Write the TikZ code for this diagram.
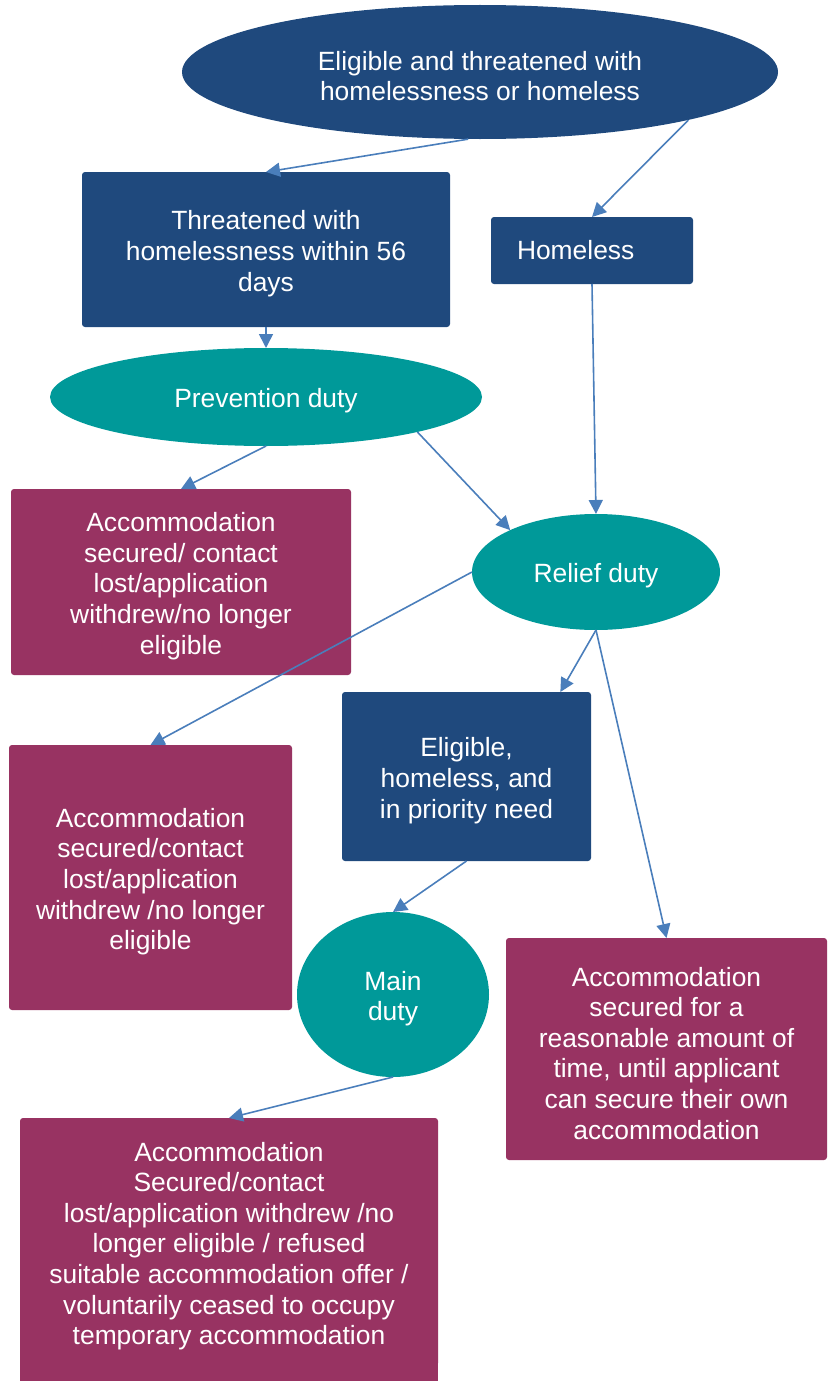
\documentclass[tikz,border=0pt]{standalone}
\usepackage{fontspec}
\setmainfont{Liberation Sans}
\usetikzlibrary{shapes.geometric, arrows.meta, positioning}

\definecolor{navy}{RGB}{31,73,125}
\definecolor{tealduty}{RGB}{0,153,153}
\definecolor{plum}{RGB}{152,51,98}
\definecolor{linkblue}{RGB}{74,126,187}

% taller first line, drops the text a little in its shape
\newcommand{\liftline}{\rule{0pt}{27.3pt}}

\tikzset{
    stage/.style={rectangle, fill=navy, rounded corners=3pt, text=white, align=center, inner sep=0pt, outer sep=0pt},
    duty/.style={ellipse, fill=tealduty, text=white, align=center, inner sep=0pt, outer sep=0pt},
    outcome/.style={rectangle, fill=plum, rounded corners=3pt, text=white, align=center, inner sep=0pt, outer sep=0pt},
    link/.style={draw=linkblue, line width=1.6pt, -{Triangle[length=14pt, width=14pt]}}
}

\begin{document}
\begin{tikzpicture}[x=1pt, y=-1pt, font=\fontsize{26.4}{30.6}\selectfont]
        \path[use as bounding box, clip] (0,0) rectangle (835,1381);

        \node[ellipse, fill=navy, text=white, align=center, inner sep=0pt, minimum width=596, minimum height=134] (start) at (480,72) {\liftline Eligible and threatened with\\homelessness or homeless};
        \node[stage, minimum width=368, minimum height=155] (threat) at (266,249.5) {\liftline Threatened with\\homelessness within 56\\days};
        \node[stage, minimum width=202, minimum height=67, inner xsep=26pt, text width=150pt, align=left] (home) at (592,250.5) {Homeless};
        \node[duty, below=21pt, minimum width=432, minimum height=98] (prev) at (threat.south) {\liftline Prevention duty};
        \node[outcome, minimum width=340, minimum height=186] (lost1) at (181,582) {\liftline Accommodation\\secured/ contact\\lost/application\\withdrew/no longer\\eligible};
        \node[duty, minimum width=248, minimum height=116] (relief) at (596,572) {\liftline Relief duty};
        \node[outcome, minimum width=283, minimum height=265] (lost2) at (150.5,877.5) {\liftline Accommodation\\secured/contact\\lost/application\\withdrew /no longer\\eligible};
        \node[stage, minimum width=249, minimum height=169] (need) at (466.5,776.5) {\liftline Eligible,\\homeless, and\\in priority need};
        \node[duty, minimum width=192, minimum height=165] (main) at (393,994.5) {\liftline Main\\duty};
        \node[outcome, minimum width=321, minimum height=222] (secured) at (666.5,1049) {\liftline Accommodation\\secured for a\\reasonable amount of\\time, until applicant\\can secure their own\\accommodation};
        \node[outcome, anchor=north, minimum width=418, minimum height=248] (lost3) at (229,1118) {\liftline Accommodation\\Secured/contact\\lost/application withdrew /no\\longer eligible / refused\\suitable accommodation offer /\\voluntarily ceased to occupy\\temporary accommodation};
        \fill[plum] ([yshift=12pt]lost3.south west) rectangle ([yshift=-30pt]lost3.south east);

        \draw[link] (start.260) -- (threat.north);
        \draw[link] (start.-13) -- (home.north);
        \draw[link] (threat.south) -- (prev.north);
        \draw[link] (home.south) -- (relief.north);
        \draw[link] (prev.south) -- (lost1.north);
        \draw[link] (prev.-13) -- (relief.154);
        \draw[link] (relief.west) -- (lost2.north);
        \draw[link] (relief.south) -- (need.42);
        \draw[link] (relief.south) -- (secured.north);
        \draw[link] (need.south) -- (main.north);
        \draw[link] (main.south) -- (lost3.north);

    \end{tikzpicture}
\end{document}
